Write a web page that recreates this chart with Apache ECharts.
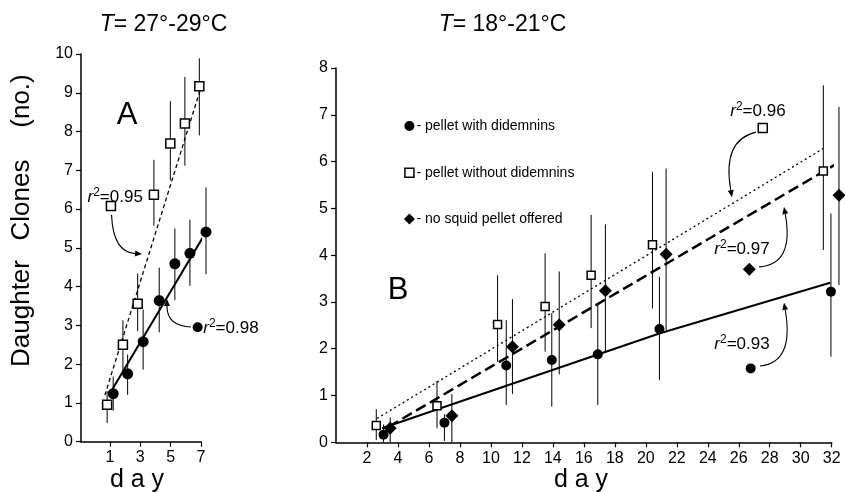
<!DOCTYPE html>
<html><head><meta charset="utf-8">
<script src="https://cdn.jsdelivr.net/npm/echarts@6/dist/echarts.min.js"></script>
<style>html,body{margin:0;padding:0;background:#fff}#c{width:845px;height:493px}</style>
</head><body><div id="c"></div>
<script>
// ---------- Panel A (T = 27-29 C) ----------
const A_xTicks = [1, 3, 5, 7];
const A_circle_day = [1.22, 2.17, 3.19, 4.25, 5.28, 6.27, 7.33];
const A_circle_val = [1.24, 1.75, 2.58, 3.64, 4.59, 4.86, 5.41];
const A_circle_lo  = [0.80, 1.21, 1.86, 2.82, 3.65, 4.02, 4.32];
const A_circle_hi  = [1.68, 2.25, 3.41, 4.49, 5.50, 5.73, 6.56];
const A_square_day = [0.82, 1.86, 2.83, 3.90, 4.98, 5.94, 6.89];
const A_square_val = [0.95, 2.50, 3.56, 6.37, 7.69, 8.21, 9.17];
const A_square_lo  = [0.48, 1.78, 2.85, 5.57, 6.74, 7.12, 7.90];
const A_square_hi  = [1.30, 3.13, 4.34, 7.27, 8.79, 9.41, 9.89];
const A_fitCircle_day = [0.95, 7.33];
const A_fitCircle_val = [1.21, 5.41];
const A_fitSquare_day = [0.67, 6.93];
const A_fitSquare_val = [1.20, 9.05];

// ---------- Panel B (T = 18-21 C) ----------
const B_xTicks = [2, 4, 6, 8, 10, 12, 14, 16, 18, 20, 22, 24, 26, 28, 30, 32];
const B_circle_day = [3.07, 7.00, 10.99, 13.93, 16.90, 20.88, 31.95];
const B_circle_val = [0.16, 0.42, 1.64, 1.76, 1.88, 2.42, 3.22];
const B_circle_lo  = [0.00, 0.03, 0.80, 0.76, 0.80, 1.33, 1.83];
const B_circle_hi  = [0.38, 0.60, 2.61, 2.76, 2.97, 3.54, 4.89];
const B_square_day = [2.60, 6.52, 10.43, 13.50, 16.47, 20.43, 31.46];
const B_square_val = [0.36, 0.78, 2.52, 2.90, 3.57, 4.22, 5.80];
const B_square_lo  = [0.05, 0.30, 1.72, 1.94, 2.44, 2.86, 4.11];
const B_square_hi  = [0.71, 1.31, 3.57, 4.04, 4.86, 5.78, 7.63];
const B_diamond_day = [3.50, 7.48, 11.39, 14.41, 17.39, 21.31, 32.47];
const B_diamond_val = [0.30, 0.57, 2.04, 2.51, 3.24, 4.02, 5.28];
const B_diamond_lo  = [0.00, 0.00, 1.03, 1.45, 1.94, 2.40, 3.36];
const B_diamond_hi  = [0.53, 1.03, 3.06, 3.65, 4.66, 5.85, 7.17];
const B_fitCircle_day = [2.97, 20.92, 31.90];
const B_fitCircle_val = [0.30, 2.33, 3.41];
const B_fitSquare_day = [2.65, 31.46];
const B_fitSquare_val = [0.51, 6.28];
const B_fitDiamond_day = [3.39, 32.20];
const B_fitDiamond_val = [0.33, 5.93];

const legendLabels = ['- pellet with didemnins', '- pellet without didemnins', '- no squid pellet offered'];
const r2Labels = { A_square: '0.95', A_circle: '0.98', B_square: '0.96', B_diamond: '0.97', B_circle: '0.93' };

const FONT = '"Liberation Sans", Arial, Helvetica, sans-serif';
const chart = echarts.init(document.getElementById('c'));

const zip = (x, y) => x.map((d, i) => [d, y[i]]);
function errSeries(g, days, lo, hi) {
  return {
    type: 'custom', xAxisIndex: g, yAxisIndex: g, clip: false, silent: true, z: 1,
    data: days.map((d, i) => [d, lo[i], hi[i]]),
    encode: { x: 0, y: [1, 2] },
    renderItem: (params, api) => {
      const a = api.coord([api.value(0), api.value(1)]);
      const b = api.coord([api.value(0), api.value(2)]);
      return { type: 'line', shape: { x1: a[0], y1: a[1], x2: b[0], y2: b[1] }, style: { stroke: '#000', lineWidth: 1 } };
    }
  };
}
function fitSeries(g, days, vals, width, dash) {
  return {
    type: 'line', xAxisIndex: g, yAxisIndex: g, clip: false, silent: true, z: 2,
    data: zip(days, vals), showSymbol: false, symbol: 'none',
    lineStyle: { color: '#000', width: width, type: dash }
  };
}
function scatterSeries(g, days, vals, kind, size) {
  const hollow = kind === 'rect';
  return {
    type: 'scatter', xAxisIndex: g, yAxisIndex: g, clip: false, silent: true, z: 3,
    data: zip(days, vals), symbol: kind, symbolSize: size,
    itemStyle: { color: hollow ? '#fff' : '#000', borderColor: '#000', borderWidth: hollow ? 1.5 : 0, opacity: 1 }
  };
}
function xAxisDef(g, min, max, ticks) {
  return {
    gridIndex: g, type: 'value', min: min, max: max,
    splitLine: { show: false },
    axisLine: { onZero: false, lineStyle: { color: '#000', width: 1.5 } },
    axisTick: { customValues: ticks, length: 5, lineStyle: { color: '#000', width: 1.2 } },
    axisLabel: { customValues: ticks, color: '#000', fontSize: 16, margin: 8, fontFamily: FONT }
  };
}
function yAxisDef(g, max) {
  return {
    gridIndex: g, type: 'value', min: 0, max: max, interval: 1,
    splitLine: { show: false },
    axisLine: { show: true, onZero: false, lineStyle: { color: '#000', width: 1.5 } },
    axisTick: { show: true, length: 5, lineStyle: { color: '#000', width: 1.2 } },
    axisLabel: { color: '#000', fontSize: 16, margin: 8, fontFamily: FONT }
  };
}

chart.setOption({
  animation: false,
  backgroundColor: '#fff',
  textStyle: { fontFamily: FONT },
  grid: [
    { left: 81, top: 54, width: 120, height: 387.7 },
    { left: 336, top: 68, width: 495.7, height: 374.3 }
  ],
  xAxis: [xAxisDef(0, -0.9, 7, A_xTicks), xAxisDef(1, 0, 32, B_xTicks)],
  yAxis: [yAxisDef(0, 10), yAxisDef(1, 8)],
  series: [
    errSeries(0, A_circle_day, A_circle_lo, A_circle_hi),
    errSeries(0, A_square_day, A_square_lo, A_square_hi),
    fitSeries(0, A_fitCircle_day, A_fitCircle_val, 2, 'solid'),
    fitSeries(0, A_fitSquare_day, A_fitSquare_val, 1.3, [4, 3]),
    scatterSeries(0, A_circle_day, A_circle_val, 'circle', 11),
    scatterSeries(0, A_square_day, A_square_val, 'rect', 9),

    errSeries(1, B_circle_day, B_circle_lo, B_circle_hi),
    errSeries(1, B_square_day, B_square_lo, B_square_hi),
    errSeries(1, B_diamond_day, B_diamond_lo, B_diamond_hi),
    fitSeries(1, B_fitCircle_day, B_fitCircle_val, 2, 'solid'),
    fitSeries(1, B_fitSquare_day, B_fitSquare_val, 1.3, [2, 3]),
    fitSeries(1, B_fitDiamond_day, B_fitDiamond_val, 2.5, [11, 5]),
    scatterSeries(1, B_circle_day, B_circle_val, 'circle', 10),
    scatterSeries(1, B_square_day, B_square_val, 'rect', 8),
    scatterSeries(1, B_diamond_day, B_diamond_val, 'diamond', 13)
  ]
});

// ---------- annotations (anchored in data units) ----------
const ANN = [
  { g: 0, text: r2Labels.A_square, textAt: [-0.47, 6.34], align: 'left', sym: 'rect', symAt: [1.07, 6.08],
    arc: [[1.11, 5.85], [1.21, 4.89], [3.12, 4.84]] },
  { g: 0, text: r2Labels.A_circle, textAt: [7.15, 2.96], align: 'left', sym: 'circle', symAt: [6.78, 2.95],
    arc: [[6.34, 2.96], [4.76, 2.98], [4.76, 3.68]] },
  { g: 1, text: r2Labels.B_square, textAt: [27.24, 7.10], align: 'center', sym: 'rect', symAt: [27.55, 6.72],
    arc: [[27.11, 6.63], [24.92, 6.46], [25.56, 5.24]] },
  { g: 1, text: r2Labels.B_diamond, textAt: [26.21, 4.15], align: 'center', sym: 'diamond', symAt: [26.68, 3.70],
    arc: [[27.31, 3.75], [29.60, 3.80], [28.92, 5.03]] },
  { g: 1, text: r2Labels.B_circle, textAt: [26.21, 2.12], align: 'center', sym: 'circle', symAt: [26.77, 1.58],
    arc: [[27.37, 1.63], [29.60, 1.70], [28.92, 2.98]] }
];
const LEG = { g: 1, at: [[4.74, 6.76], [4.74, 5.76], [4.74, 4.77]], syms: ['circle', 'rect', 'diamond'] };

const px = (g, p) => chart.convertToPixel({ gridIndex: g }, p);
function symbolEl(kind, p, s) {
  if (kind === 'circle') return { type: 'circle', shape: { cx: p[0], cy: p[1], r: s / 2 }, style: { fill: '#000' }, z: 10 };
  if (kind === 'rect') return { type: 'rect', shape: { x: p[0] - s / 2, y: p[1] - s / 2, width: s, height: s }, style: { fill: '#fff', stroke: '#000', lineWidth: 1.5 }, z: 10 };
  const h = s / 2;
  return { type: 'polygon', shape: { points: [[p[0], p[1] - h], [p[0] + h, p[1]], [p[0], p[1] + h], [p[0] - h, p[1]]] }, style: { fill: '#000' }, z: 10 };
}
function arrowArc(g, arc) {
  const S = px(g, arc[0]), C = px(g, arc[1]), E = px(g, arc[2]);
  const dx = E[0] - C[0], dy = E[1] - C[1], L = Math.hypot(dx, dy), ux = dx / L, uy = dy / L;
  const len = 7, w = 3;
  const B = [E[0] - ux * len, E[1] - uy * len];
  return [
    { type: 'bezierCurve', shape: { x1: S[0], y1: S[1], cpx1: C[0], cpy1: C[1], x2: B[0], y2: B[1] }, style: { stroke: '#000', lineWidth: 1.1, fill: 'none' }, z: 10 },
    { type: 'polygon', shape: { points: [E, [B[0] - uy * w, B[1] + ux * w], [B[0] + uy * w, B[1] - ux * w]] }, style: { fill: '#000' }, z: 10 }
  ];
}
const r2Rich = {
  i: { fontStyle: 'italic', fontSize: 17, fontFamily: FONT, fill: '#000', verticalAlign: 'bottom', lineHeight: 19 },
  s: { fontSize: 12, fontFamily: FONT, fill: '#000', verticalAlign: 'top', lineHeight: 19 },
  n: { fontSize: 17, fontFamily: FONT, fill: '#000', verticalAlign: 'bottom', lineHeight: 19 }
};
const titleRich = {
  i: { fontStyle: 'italic', fontSize: 23, fontFamily: FONT, fill: '#000' },
  n: { fontSize: 23, fontFamily: FONT, fill: '#000' }
};

const G = [];
ANN.forEach(a => {
  const t = px(a.g, a.textAt);
  G.push({ type: 'text', x: t[0], y: t[1], z: 10,
    style: { text: '{i|r}{s|2}{n|=' + a.text + '}', rich: r2Rich, align: a.align, verticalAlign: 'middle' } });
  const sz = a.sym === 'diamond' ? 13 : (a.sym === 'rect' ? 9 : 10);
  G.push(symbolEl(a.sym, px(a.g, a.symAt), sz));
  arrowArc(a.g, a.arc).forEach(e => G.push(e));
});
LEG.at.forEach((p, i) => {
  const q = px(LEG.g, p);
  const sz = LEG.syms[i] === 'diamond' ? 11 : (LEG.syms[i] === 'rect' ? 9 : 10);
  G.push(symbolEl(LEG.syms[i], q, sz));
  G.push({ type: 'text', x: q[0] + 7, y: q[1], z: 10,
    style: { text: legendLabels[i], fontSize: 14, fontFamily: FONT, fill: '#000', align: 'left', verticalAlign: 'middle' } });
});
// titles, panel letters, axis names
G.push({ type: 'text', x: 163.5, y: 25, style: { text: '{i|T}{n|= 27°-29°C}', rich: titleRich, align: 'center', verticalAlign: 'middle' } });
G.push({ type: 'text', x: 502.5, y: 25, style: { text: '{i|T}{n|= 18°-21°C}', rich: titleRich, align: 'center', verticalAlign: 'middle' } });
G.push({ type: 'text', x: 127, y: 115, style: { text: 'A', fontSize: 31, fontFamily: FONT, fill: '#000', align: 'center', verticalAlign: 'middle' } });
G.push({ type: 'text', x: 398, y: 290, style: { text: 'B', fontSize: 31, fontFamily: FONT, fill: '#000', align: 'center', verticalAlign: 'middle' } });
[['(no.)', 101], ['Clones', 200], ['Daughter', 313.5]].forEach(w => {
  G.push({ type: 'text', x: 22, y: w[1], rotation: Math.PI / 2,
    style: { text: w[0], fontSize: 26, fontFamily: FONT, fill: '#000', align: 'center', verticalAlign: 'middle' } });
});
G.push({ type: 'text', x: 137, y: 480, style: { text: 'd a y', fontSize: 25, fontFamily: FONT, fill: '#000', align: 'center', verticalAlign: 'middle' } });
G.push({ type: 'text', x: 581, y: 480, style: { text: 'd a y', fontSize: 25, fontFamily: FONT, fill: '#000', align: 'center', verticalAlign: 'middle' } });

chart.setOption({ graphic: G });
</script>
</body></html>
